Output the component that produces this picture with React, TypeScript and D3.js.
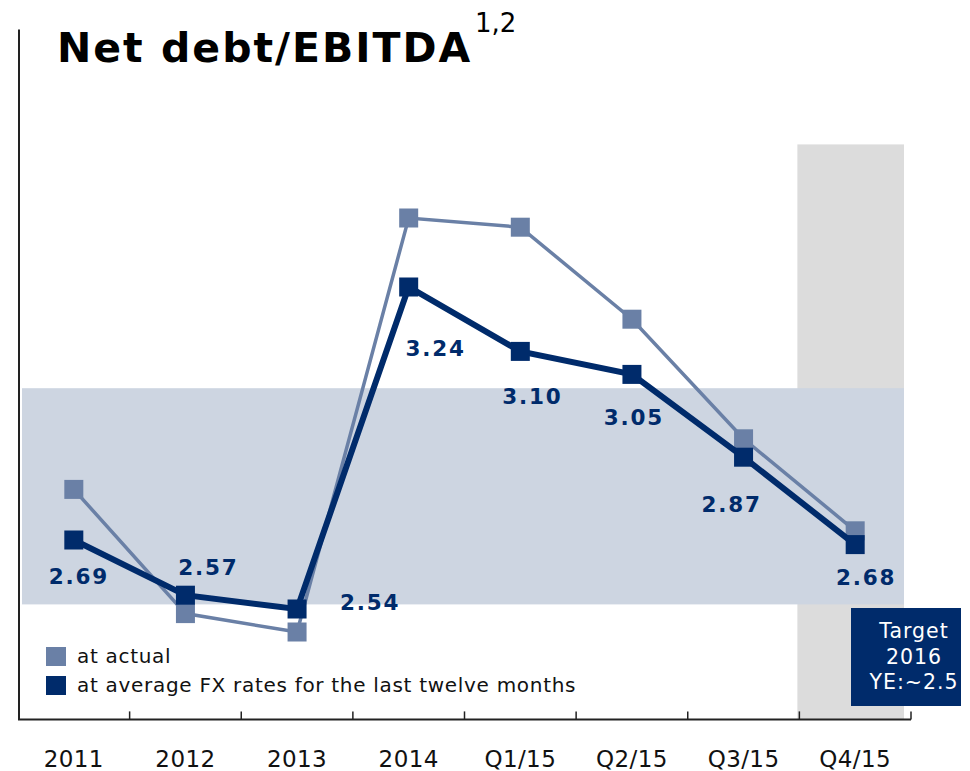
import * as d3 from 'd3'

// categories and the two series
const categories = ['2011', '2012', '2013', '2014', 'Q1/15', 'Q2/15', 'Q3/15', 'Q4/15']
const atActual = [2.80, 2.53, 2.49, 3.39, 3.37, 3.17, 2.91, 2.71]
const atAvgFx = [2.69, 2.57, 2.54, 3.24, 3.10, 3.05, 2.87, 2.68]
const valueLabels = ['2.69', '2.57', '2.54', '3.24', '3.10', '3.05', '2.87', '2.68']

// label offsets from the marker (layout only)
const labelOffsets: [number, number][] = [
  [5, 44], [23, -20], [73, 1], [27, 69], [12, 53], [2, 51], [-12, 55], [11, 40],
]

const targetBand = [2.55, 3.02]
const forecastTop = 3.55
const targetLines = ['Target', '2016', 'YE:~2.5']
const legendItems = ['at actual', 'at average FX rates for the last twelve months']

const W = 970
const H = 771
const LIGHT = '#6a80a6'
const DARK = '#002b6b'
const FONT = '"DejaVu Sans", Verdana, sans-serif'

export default function App() {
  const x = d3.scaleBand<string>().domain(categories).range([18, 911])
  const y = d3.scaleLinear().domain([2.3, 3.8]).range([719.4, 29.4])
  const cx = (c: string) => (x(c) ?? 0) + x.bandwidth() / 2

  const line = d3.line<number>()
    .x((_, i) => cx(categories[i]))
    .y(d => y(d))

  const lastBandStart = x(categories[categories.length - 1]) ?? 0
  const xEnd = 911
  const m = 19

  return (
    <svg width={W} height={H} style={{ position: 'absolute', left: 0, top: 0 }} fontFamily={FONT}>
      <rect width={W} height={H} fill="#fff" />

      {/* forecast column */}
      <rect x={lastBandStart - 2} y={y(forecastTop)} width={xEnd - 7 - lastBandStart + 2}
        height={y(2.3) - y(forecastTop)} fill="#dcdcdc" />

      {/* target corridor */}
      <rect x={22} y={y(targetBand[1])} width={904 - 22}
        height={y(targetBand[0]) - y(targetBand[1])} fill="#cdd5e1" />

      {/* axes */}
      <line x1={19} x2={19} y1={y(3.8)} y2={y(2.3)} stroke="#222" strokeWidth={2} />
      <line x1={18} x2={xEnd} y1={y(2.3)} y2={y(2.3)} stroke="#222" strokeWidth={2} />
      {categories.map(c => (
        <line key={'t' + c} x1={(x(c) ?? 0) + x.bandwidth()} x2={(x(c) ?? 0) + x.bandwidth()}
          y1={y(2.3)} y2={y(2.3) - 8} stroke="#222" strokeWidth={1.5} />
      ))}
      {categories.map(c => (
        <text key={'c' + c} x={cx(c)} y={767} textAnchor="middle" fontSize={23} letterSpacing={0.4} fill="#111">{c}</text>
      ))}

      {/* series */}
      <path d={line(atActual) ?? ''} fill="none" stroke={LIGHT} strokeWidth={3.5} />
      {atActual.map((v, i) => (
        <rect key={'a' + i} x={cx(categories[i]) - m / 2} y={y(v) - m / 2} width={m} height={m} fill={LIGHT} />
      ))}
      <path d={line(atAvgFx) ?? ''} fill="none" stroke={DARK} strokeWidth={6} />
      {atAvgFx.map((v, i) => (
        <rect key={'f' + i} x={cx(categories[i]) - m / 2} y={y(v) - m / 2} width={m} height={m} fill={DARK} />
      ))}
      {atAvgFx.map((v, i) => (
        <text key={'l' + i} x={cx(categories[i]) + labelOffsets[i][0]} y={y(v) + labelOffsets[i][1]}
          textAnchor="middle" fontSize={21.5} fontWeight="bold" letterSpacing={1.8} fill={DARK}>
          {valueLabels[i]}
        </text>
      ))}

      {/* legend */}
      {legendItems.map((t, i) => (
        <g key={t} transform={`translate(46, ${647 + i * 29})`}>
          <rect width={20} height={19} fill={i === 0 ? LIGHT : DARK} />
          <text x={31} y={16} fontSize={20} letterSpacing={0.7} fill="#111">{t}</text>
        </g>
      ))}

      {/* target box */}
      <rect x={851} y={608} width={110} height={98} fill={DARK} />
      {targetLines.map((t, i) => (
        <text key={t} x={914} y={638 + i * 25.5} textAnchor="middle" fontSize={20.5} letterSpacing={1} fill="#fff">{t}</text>
      ))}

      {/* title */}
      <text x={57} y={62} fontSize={41} fontWeight="bold" letterSpacing={2} fill="#000">Net debt/EBITDA</text>
      <text x={475} y={32} fontSize={26} fill="#000">1,2</text>
    </svg>
  )
}
